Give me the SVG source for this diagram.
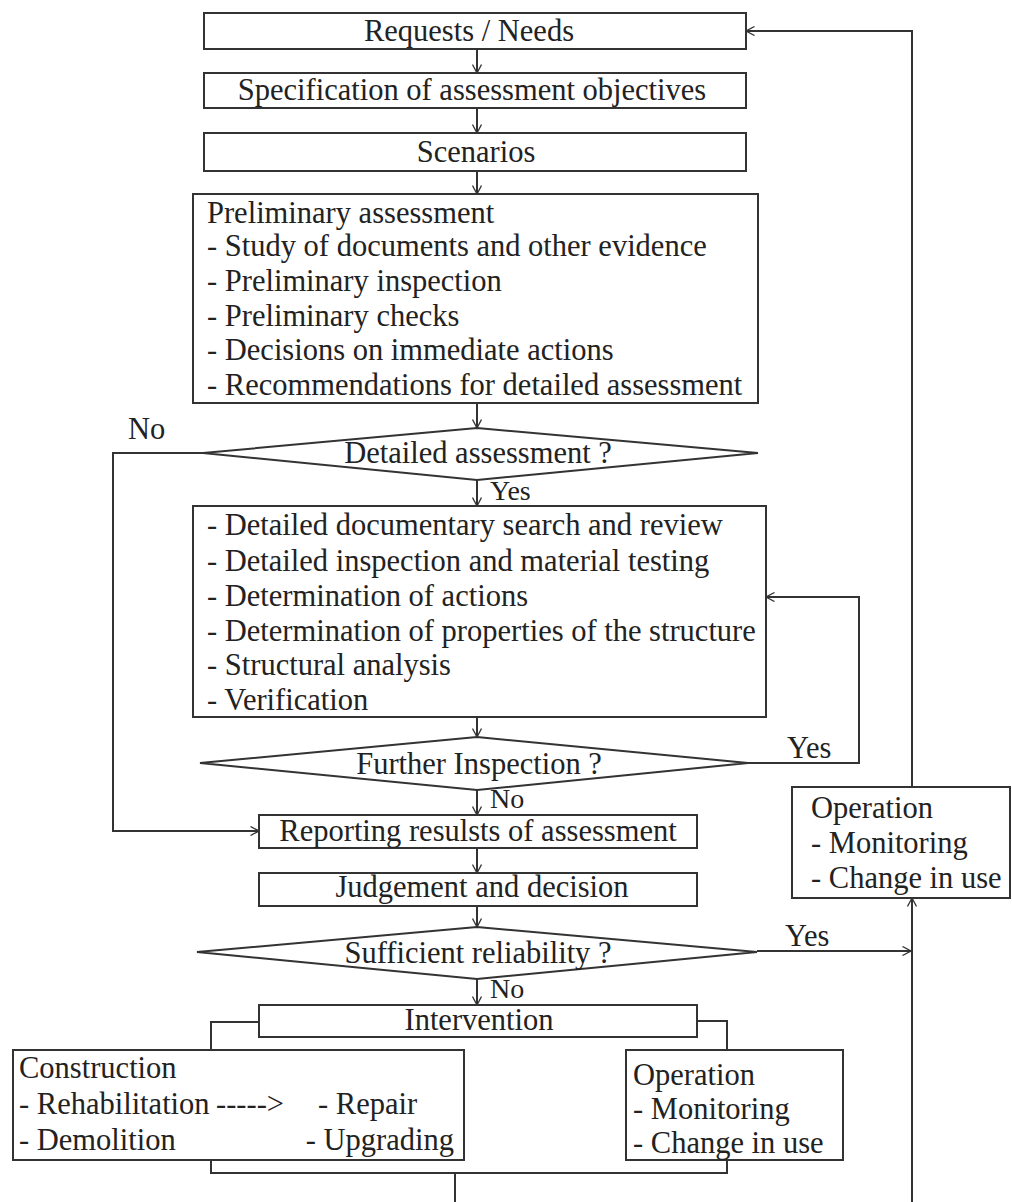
<svg xmlns="http://www.w3.org/2000/svg" width="1012" height="1202" viewBox="0 0 1012 1202">
<defs>
<marker id="arr" viewBox="0 0 10 10" refX="9.5" refY="5" markerWidth="10" markerHeight="10" markerUnits="userSpaceOnUse" orient="auto">
<path d="M1,0.5 L9.5,5 L1,9.5" fill="none" stroke="#333" stroke-width="1.3"/>
</marker>
<style>
.b{fill:#fff;stroke:#333;stroke-width:2}
.c{fill:none;stroke:#333;stroke-width:2}
.a{fill:none;stroke:#333;stroke-width:2;marker-end:url(#arr)}
text{font-family:"Liberation Serif","Times New Roman",serif;font-size:30.5px;fill:#222}
.m{text-anchor:middle}
.s{font-size:28px}
</style>
</defs>
<rect width="1012" height="1202" fill="#fff"/>
<g id="connectors">
<line class="a" x1="477" y1="49" x2="477" y2="73"/>
<line class="a" x1="477" y1="108" x2="477" y2="133"/>
<line class="a" x1="477" y1="171" x2="477" y2="194"/>
<line class="a" x1="477" y1="403" x2="477" y2="428"/>
<line class="a" x1="477" y1="480" x2="477" y2="506"/>
<line class="a" x1="477" y1="717" x2="477" y2="737"/>
<line class="a" x1="477" y1="790" x2="477" y2="815"/>
<line class="a" x1="477" y1="848" x2="477" y2="873"/>
<line class="a" x1="477" y1="906" x2="477" y2="927"/>
<line class="a" x1="477" y1="979" x2="477" y2="1005"/>
<polyline class="a" points="203,453 113,453 113,831 259,831"/>
<polyline class="a" points="748,763 859,763 859,597 766,597"/>
<polyline class="a" points="912,787 912,31 746,31"/>
<polyline class="a" points="912,1202 912,898"/>
<polyline class="a" points="757,951 911,951"/>
<polyline class="c" points="259,1022 211,1022 211,1050"/>
<polyline class="c" points="697,1021 727,1021 727,1050"/>
<polyline class="c" points="211,1160 211,1173 727,1173 727,1160"/>
<line class="c" x1="455" y1="1173" x2="455" y2="1202"/>
<text x="128" y="439">No</text>
<text class="s" x="490" y="500">Yes</text>
<text x="787" y="758">Yes</text>
<text class="s" x="490" y="808">No</text>
<text x="785" y="946">Yes</text>
<text class="s" x="490" y="998">No</text>
</g>
<g id="requests">
<rect class="b" x="204" y="13" width="542" height="36"/>
<text class="m" x="469" y="41">Requests / Needs</text>
</g>
<g id="specification">
<rect class="b" x="204" y="73" width="542" height="35"/>
<text class="m" x="472" y="100">Specification of assessment objectives</text>
</g>
<g id="scenarios">
<rect class="b" x="204" y="133" width="542" height="38"/>
<text class="m" x="476" y="162">Scenarios</text>
</g>
<g id="preliminary">
<rect class="b" x="193" y="194" width="565" height="209"/>
<text x="207" y="223">Preliminary assessment</text>
<text x="207" y="256">- Study of documents and other evidence</text>
<text x="207" y="291">- Preliminary inspection</text>
<text x="207" y="326">- Preliminary checks</text>
<text x="207" y="360">- Decisions on immediate actions</text>
<text x="207" y="395">- Recommendations for detailed assessment</text>
</g>
<g id="detailed-q">
<polygon class="b" points="203,453 477,428 758,453 477,480"/>
<text class="m" x="478" y="463">Detailed assessment ?</text>
</g>
<g id="detailed">
<rect class="b" x="193" y="506" width="573" height="211"/>
<text x="207" y="535">- Detailed documentary search and review</text>
<text x="207" y="571">- Detailed inspection and material testing</text>
<text x="207" y="606">- Determination of actions</text>
<text x="207" y="641">- Determination of properties of the structure</text>
<text x="207" y="675">- Structural analysis</text>
<text x="207" y="710">- Verification</text>
</g>
<g id="further-q">
<polygon class="b" points="200,763 477,737 748,763 477,790"/>
<text class="m" x="479" y="774">Further Inspection ?</text>
</g>
<g id="reporting">
<rect class="b" x="259" y="815" width="438" height="33"/>
<text class="m" x="478" y="841">Reporting resulsts of assessment</text>
</g>
<g id="judgement">
<rect class="b" x="259" y="873" width="438" height="33"/>
<text class="m" x="482" y="897">Judgement and decision</text>
</g>
<g id="sufficient-q">
<polygon class="b" points="197,952 477,927 757,952 477,979"/>
<text class="m" x="478" y="963">Sufficient reliability ?</text>
</g>
<g id="intervention">
<rect class="b" x="259" y="1005" width="438" height="32"/>
<text class="m" x="479" y="1030">Intervention</text>
</g>
<g id="construction">
<rect class="b" x="13" y="1050" width="451" height="110"/>
<text x="19" y="1078">Construction</text>
<text x="19" y="1114">- Rehabilitation</text>
<text x="216" y="1114">-----&gt;</text>
<text x="318" y="1114">- Repair</text>
<text x="19" y="1150">- Demolition</text>
<text x="454" y="1150" text-anchor="end">- Upgrading</text>
</g>
<g id="operation-lower">
<rect class="b" x="626" y="1050" width="217" height="110"/>
<text x="633" y="1085">Operation</text>
<text x="633" y="1119">- Monitoring</text>
<text x="633" y="1153">- Change in use</text>
</g>
<g id="operation-right">
<rect class="b" x="792" y="787" width="218" height="111"/>
<text x="811" y="818">Operation</text>
<text x="811" y="853">- Monitoring</text>
<text x="811" y="888">- Change in use</text>
</g>
</svg>
